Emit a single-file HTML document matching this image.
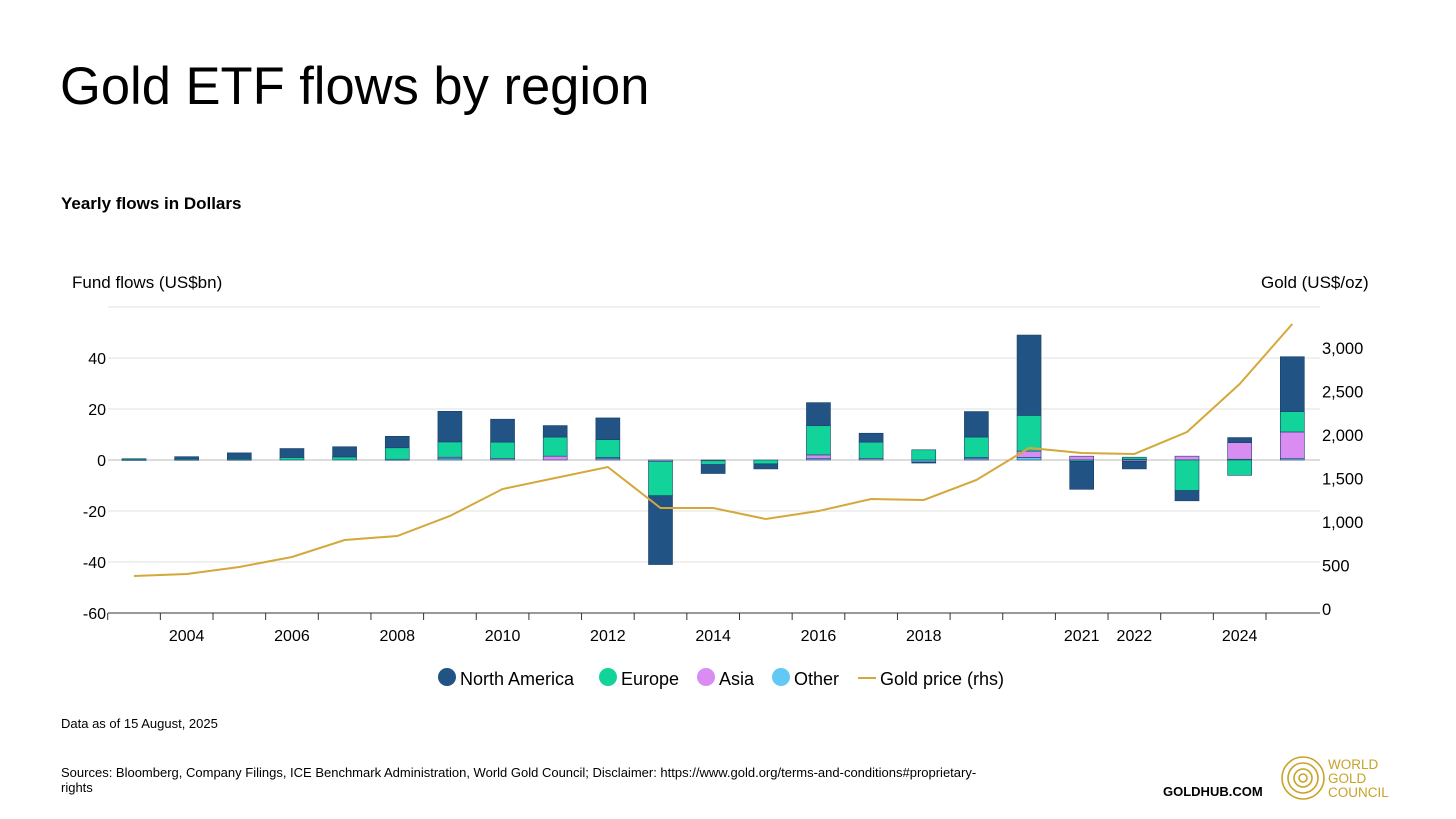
<!DOCTYPE html>
<html><head><meta charset="utf-8"><style>
body{margin:0;background:#fff;font-family:"Liberation Sans",sans-serif;}
#wrap{position:relative;width:1456px;height:819px;overflow:hidden;}
.t{position:absolute;white-space:nowrap;color:#000;}
</style></head><body>
<div id="wrap">
<div class="t" style="left:60px;top:56px;font-size:52.5px;">Gold ETF flows by region</div>
<div class="t" style="left:61px;top:194px;font-size:17px;font-weight:bold;">Yearly flows in Dollars</div>
<div class="t" style="left:72px;top:273px;font-size:17px;">Fund flows (US$bn)</div>
<div class="t" style="left:1261px;top:273px;font-size:17px;">Gold (US$/oz)</div>
<svg id="chart" width="1456" height="819" style="position:absolute;left:0;top:0"></svg>
<div class="t" style="left:61px;top:716px;font-size:13px;">Data as of 15 August, 2025</div>
<div class="t" style="left:61px;top:765px;font-size:13px;line-height:15px;">Sources: Bloomberg, Company Filings, ICE Benchmark Administration, World Gold Council; Disclaimer: https://www.gold.org/terms-and-conditions#proprietary-<br>rights</div>
<div class="t" style="left:1163px;top:784px;font-size:13px;font-weight:bold;">GOLDHUB.COM</div>
<svg style="position:absolute;left:1280px;top:755px" width="50" height="48">
<g fill="none" stroke="#c9a227" stroke-width="1.6"><circle cx="23" cy="23" r="21"/><circle cx="23" cy="23" r="15"/><circle cx="23" cy="23" r="9"/><circle cx="23" cy="23" r="4"/></g></svg>
<div class="t" style="left:1328px;top:758px;font-size:13.5px;line-height:14px;color:#c9a227;">WORLD<br>GOLD<br>COUNCIL</div>
</div>
<script>
const years=[2003,2004,2005,2006,2007,2008,2009,2010,2011,2012,2013,2014,2015,2016,2017,2018,2019,2020,2021,2022,2023,2024,2025];
const northAmerica=[0,1,2.5,3.5,4,4.5,12,9,4.5,8.5,-27,-3.5,-2,9,3.5,-0.3,10,31.5,-11,-3,-4,2,21.5];
const europe=[0.3,0.3,0.3,1,1.2,4.5,6,6.5,7.5,7,-13.5,-1.5,-1.5,11.5,6.5,4,8,14,-0.5,0.8,-12,-6,8];
const asia=[0,0,0,0,0,0,0.3,0.5,1.5,0.5,-0.5,-0.3,0,1.5,0.5,0,0.5,2.5,1.5,-0.5,1.5,6.5,10.5];
const other=[0.2,0,0,0,0,0.3,0.8,0,0,0.5,0,0,0,0.5,0,-0.8,0.5,1,0,0.3,0,0.3,0.5];
const goldPrice=[380,402,483,598,793,839,1069,1379,1506,1632,1161,1161,1034,1126,1264,1253,1483,1851,1793,1782,2034,2586,3276];
const leftTicks=[-60,-40,-20,0,20,40];
const rightTicks=[0,500,1000,1500,2000,2500,3000];
const xLabels=[2004,2006,2008,2010,2012,2014,2016,2018,2021,2022,2024];

const NS="http://www.w3.org/2000/svg";
const svg=document.getElementById('chart');
const yL=v=>460-v*2.55;
const yR=v=>609-v*0.0870;
const xS=yr=>134+(yr-2003)*52.65;
function mk(tag,attrs){const e=document.createElementNS(NS,tag);for(const k in attrs)e.setAttribute(k,attrs[k]);svg.appendChild(e);return e;}
[-60,-40,-20,0,20,40,60].forEach(v=>{
  const g=mk('line',{x1:108,x2:1320,y1:yL(v),y2:yL(v),stroke:v===-60?'#333':(v===0?'#bbb':'#e2e2e2'),'stroke-width':1});
  
  
});
leftTicks.forEach(v=>{
  const t=mk('text',{x:106,y:yL(v)+6,'text-anchor':'end','font-size':16,'font-family':'Liberation Sans'});
  t.textContent=v;
  
  
});
rightTicks.forEach(v=>{
  const t=mk('text',{x:1322,y:yR(v)+6,'font-size':16.5,'font-family':'Liberation Sans'});
  t.textContent=v.toLocaleString('en-US');
  
  
});
years.forEach(yr=>{
  const l=mk('line',{x1:xS(yr)-26.3,x2:xS(yr)-26.3,y1:613,y2:620,stroke:'#333'});
  
  
});
xLabels.forEach(yr=>{
  const t=mk('text',{x:xS(yr),y:641,'text-anchor':'middle','font-size':16,'font-family':'Liberation Sans'});
  t.textContent=yr;
  
  
});
const series=[[other,'#62c8f5','other'],[asia,'#d98cf2','asia'],[europe,'#12d39a','europe'],[northAmerica,'#215384','north-america']];
years.forEach((yr,i)=>{
  let pos=0,neg=0;
  series.forEach(([arr,col,nm])=>{
    const v=arr[i]; if(!v)return;
    let a,b; if(v>0){a=pos;b=pos+v;pos=b;}else{a=neg;b=neg+v;neg=b;}
    const y1=Math.min(yL(a),yL(b)),h=Math.abs(yL(a)-yL(b));
    const r=mk('rect',{x:xS(yr)-12,y:y1,width:24,height:Math.max(h,1),fill:col,stroke:'#1a3f66','stroke-width':0.6});
    
    
  });
});
const p=mk('polyline',{points:years.map((yr,i)=>xS(yr)+','+yR(goldPrice[i])).join(' '),fill:'none',stroke:'#d4a83a','stroke-width':2});


const leg=[['North America','#215384',438,'c'],['Europe','#12d39a',599,'c'],['Asia','#d98cf2',697,'c'],['Other','#62c8f5',772,'c'],['Gold price (rhs)','#d4a83a',858,'l']];
leg.forEach(([txt,col,x,k])=>{
  let m;
  if(k==='c')m=mk('circle',{cx:x+9,cy:677,r:9,fill:col});
  else m=mk('line',{x1:x,x2:x+18,y1:678,y2:678,stroke:col,'stroke-width':2});
  
  
  const t=mk('text',{x:x+22,y:685,'font-size':18,'font-family':'Liberation Sans'});
  t.textContent=txt;
  
  
});
</script>
</body></html>
